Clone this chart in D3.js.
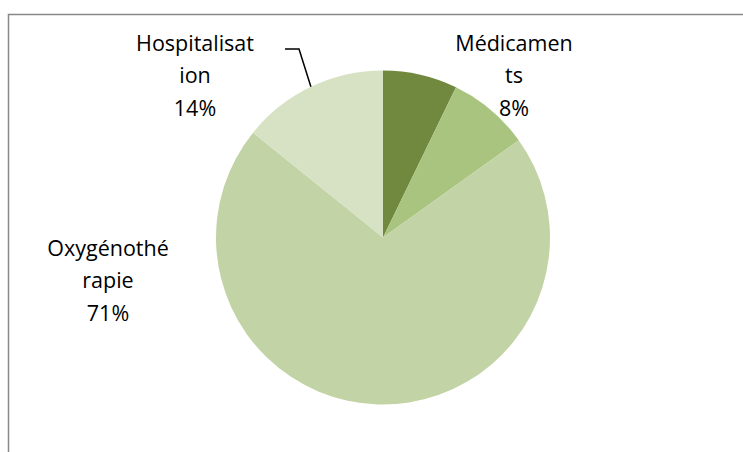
<!DOCTYPE html>
<html><head><meta charset="utf-8">
<script src="https://cdn.jsdelivr.net/npm/d3@7"></script>
<style>body{margin:0;background:#fff}svg{display:block}</style>
</head><body>
<svg id="c" width="743" height="452"></svg>
<script>
const categories = ["Autres", "Médicaments", "Oxygénothérapie", "Hospitalisation"];
const values = [7.2, 7.9, 70.7, 14.2];
const labelLines = [null, ["Médicamen", "ts", "8%"], ["Oxygénothé", "rapie", "71%"], ["Hospitalisat", "ion", "14%"]];
const colors = ["#71893f", "#a9c47f", "#c2d3a6", "#d7e2c4"];

const svg = d3.select("#c");
svg.append("path").attr("d", "M8.5,452 V14.5 H743").attr("fill", "none").attr("stroke", "#888").attr("stroke-width", 1.5);

const cx = 383, cy = 237.5, R = 167;
const pie = d3.pie().sort(null).value(d => d);
const arcs = pie(values);
const arc = d3.arc().innerRadius(0).outerRadius(R);
const g = svg.append("g").attr("transform", `translate(${cx},${cy})`);
g.selectAll("path").data(arcs).join("path").attr("d", arc).attr("fill", (d, i) => colors[i]);

const labelPos = [null, [514, 43], [108, 248], [195, 43]];
const lh = 32.5;
labelLines.forEach((lines, i) => {
  if (!lines) return;
  const t = svg.append("text").attr("text-anchor", "middle").attr("font-family", "'Open Sans', sans-serif")
    .attr("font-size", 21.5).attr("fill", "#000");
  lines.forEach((s, k) => {
    t.append("tspan").attr("x", labelPos[i][0]).attr("y", labelPos[i][1] + k * lh).attr("dy", "0.35em").text(s);
  });
});
// leader line for Hospitalisation
const a = arcs[3];
const mid = (a.startAngle + a.endAngle) / 2;
const ex = cx + R * Math.sin(mid), ey = cy - R * Math.cos(mid);
svg.append("polyline").attr("points", `285,49 299,49 ${ex.toFixed(1)},${ey.toFixed(1)}`)
  .attr("fill", "none").attr("stroke", "#000").attr("stroke-width", 1.5);
</script>
</body></html>
